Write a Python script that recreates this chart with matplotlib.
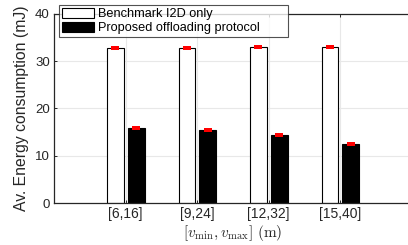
import matplotlib
matplotlib.use("Agg")
import matplotlib.pyplot as plt
import numpy as np

categories = ["[6,16]", "[9,24]", "[12,32]", "[15,40]"]
benchmark = [32.75, 32.8, 32.95, 32.95]
proposed = [15.8, 15.45, 14.4, 12.5]
series_names = ["Benchmark I2D only", "Proposed offloading protocol"]

plt.rcParams['font.family'] = ['Liberation Sans', 'DejaVu Sans']
plt.rcParams['mathtext.fontset'] = 'cm'

fig = plt.figure(figsize=(4.08, 2.45), dpi=100)
W, H = 408, 245
ax = fig.add_axes([54 / W, (H - 203) / H, 357.5 / W, 189 / H])

dark = '#262626'
x = np.arange(1, len(categories) + 1)
bw = 0.235
ax.bar(x - 0.14, benchmark, bw, color='white', edgecolor='black', linewidth=0.8,
       label=series_names[0], zorder=2)
ax.bar(x + 0.15, proposed, bw, color='black', edgecolor='black', linewidth=0.8,
       label=series_names[1], zorder=2)

rect = [(-0.5, -0.32), (0.5, -0.32), (0.5, 0.32), (-0.5, 0.32), (-0.5, -0.32)]
ax.plot(x - 0.14, benchmark, linestyle='none', marker=rect, markersize=5.4,
        color='#ff0000', markeredgewidth=0, zorder=3)
ax.plot(x + 0.15, proposed, linestyle='none', marker=rect, markersize=5.4,
        color='#ff0000', markeredgewidth=0, zorder=3)

ax.set_xlim(0, 5)
ax.set_ylim(0, 40)
ax.set_xticks(x)
ax.set_xticklabels(categories, fontsize=10, color=dark)
ax.set_yticks([0, 10, 20, 30, 40])
ax.set_yticklabels(['0', '10', '20', '30', '40'], fontsize=9.5, color=dark)
ax.tick_params(direction='in', length=2.5, width=0.7, color=dark, top=True, right=True,
               pad=3)
ax.grid(True, color='#e8e8e8', linewidth=0.8, zorder=0)
ax.set_axisbelow(True)
for s in ax.spines.values():
    s.set_color(dark)
    s.set_linewidth(0.9)

ax.set_ylabel("Av. Energy consumption (mJ)", fontsize=11.3, color=dark, labelpad=4)
ax.set_xlabel(r"$[v_{\min}, v_{\max}]\ (\mathrm{m})$", fontsize=11, color=dark, labelpad=1)

ax_w, ax_h = 357.5, 189
lx0 = (59 - 54) / ax_w
lx1 = (288 - 54) / ax_w
ly1 = (203 - 5) / ax_h
ly0 = (203 - 36) / ax_h
leg = ax.legend(loc='upper left', bbox_to_anchor=(lx0, ly0, lx1 - lx0, ly1 - ly0),
                mode='expand', borderaxespad=0, fontsize=9.2, frameon=True, fancybox=False,
                handlelength=2.5, handleheight=0.85, handletextpad=0.3,
                labelspacing=0.12, borderpad=0.22)
leg.get_frame().set_edgecolor(dark)
leg.get_frame().set_linewidth(0.8)
leg.set_zorder(5)
for t in leg.get_texts():
    t.set_color('black')

fig.savefig("out.png", dpi=100)
